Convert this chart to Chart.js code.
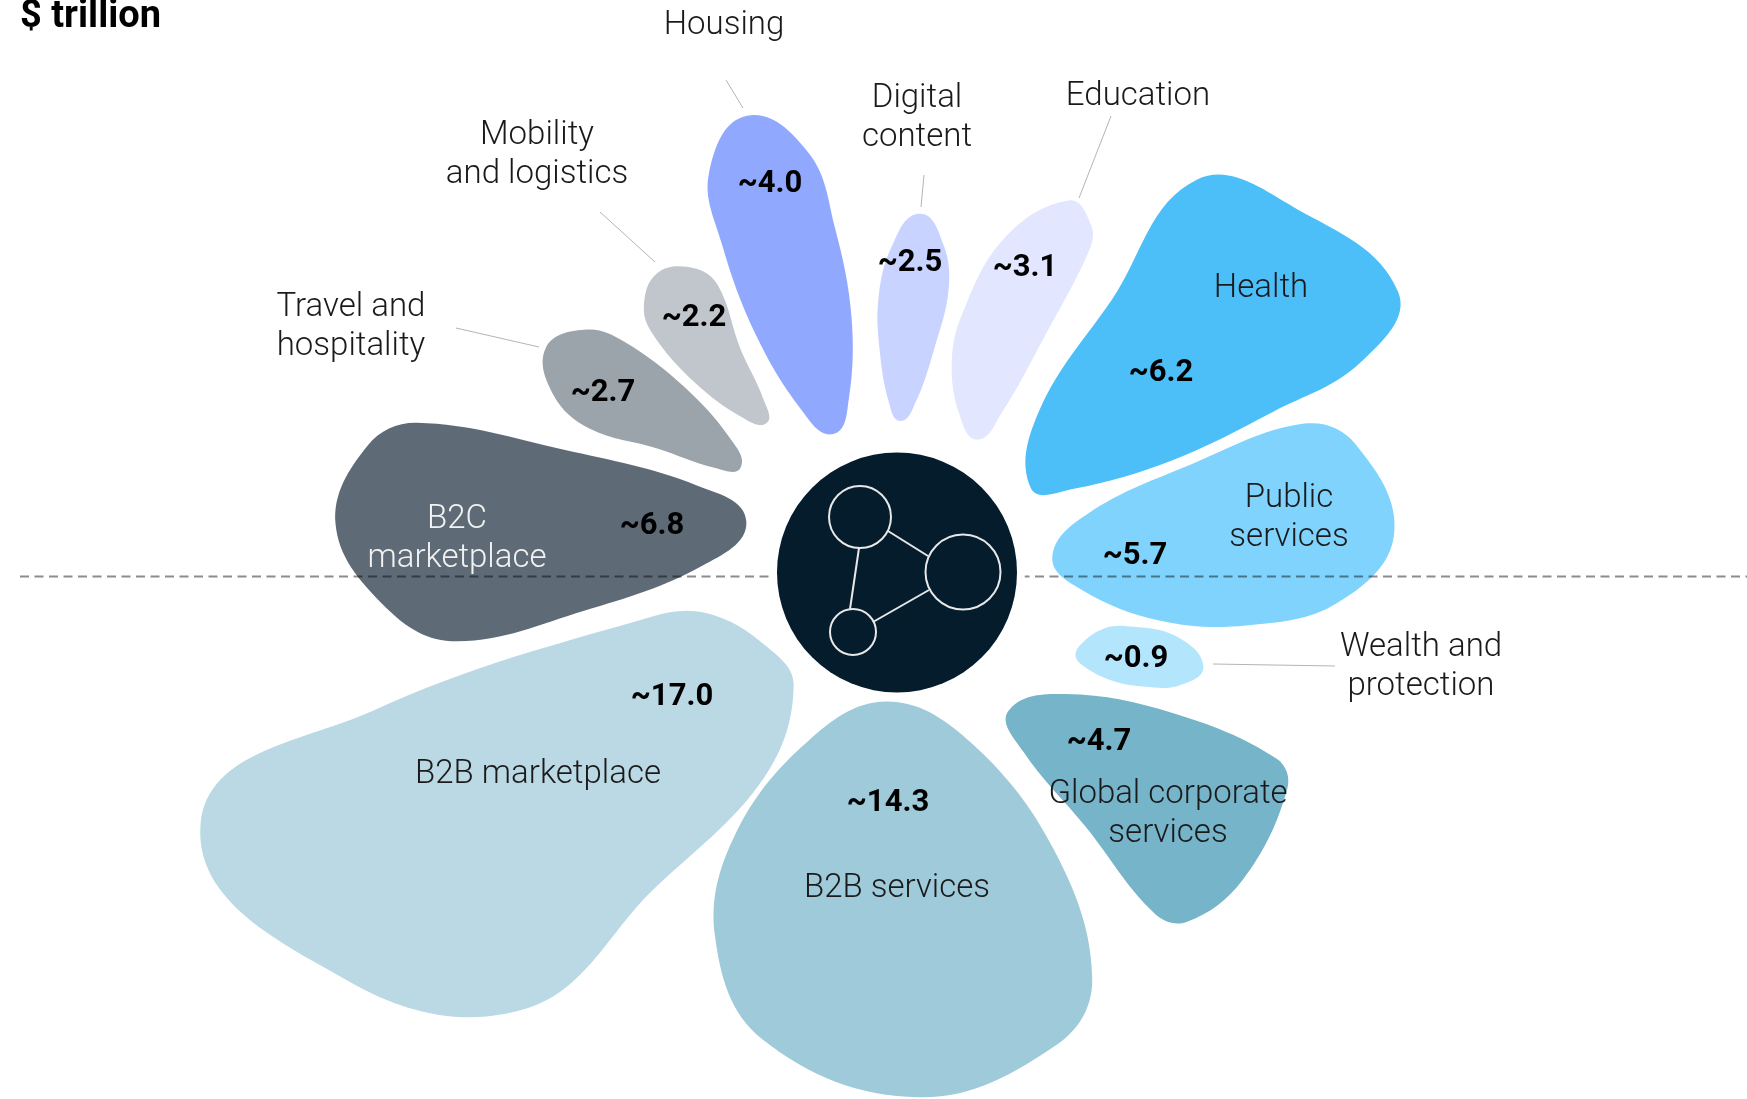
<!DOCTYPE html>
<html>
<head>
<meta charset="utf-8">
<title>$ trillion</title>
<script src="https://cdn.jsdelivr.net/npm/chart.js@4"></script>
<style>
  html, body { margin: 0; background: #fff; }
  canvas { display: block; }
</style>
</head>
<body>
<canvas id="petalChart" width="1747" height="1099"></canvas>
<script>
const categories = [
  ['Wealth and', 'protection'], ['Global corporate', 'services'], ['B2B services'], ['B2B marketplace'],
  ['B2C', 'marketplace'], ['Travel and', 'hospitality'], ['Mobility', 'and logistics'], ['Housing'],
  ['Digital', 'content'], ['Education'], ['Health'], ['Public', 'services']
];
const values = [0.9, 4.7, 14.3, 17.0, 6.8, 2.7, 2.2, 4.0, 2.5, 3.1, 6.2, 5.7];
const colors = ['#b3e5fd', '#76b4c9', '#9ecada', '#bbd9e4', '#5e6b76', '#9ba3ab',
  '#c0c6cb', '#91a8ff', '#c8d3ff', '#e2e7ff', '#4cbff9', '#7fd3fd'];

// petal look, not data: turn = direction of tip/base in degrees, gap = base distance,
// stretch on the scale radius, fat on the area rule, then belly + fullness for each side
const petalStyle = [
  { tip: 17.1, base: 25.0, gap: 197, stretch: 1.116, fat: 0.76, share: 0.43, cw: [0.55, 0.88, 0.85], ccw: [0.38, 0.88, 0.85] },
  { tip: 41.7, base: 51.2, gap: 178, stretch: 1.195, fat: 1.1, share: 0.4, cw: [0.82, 0.62, 0.85], ccw: [0.85, 0.8, 0.85] },
  { tip: 87.6, base: 94.9, gap: 130, stretch: 0.821, fat: 0.94, share: 0.51, cw: [0.55, 0.85, 0.8], ccw: [0.74, 0.85, 0.78] },
  { tip: 160.1, base: 132.5, gap: 153, stretch: 1.041, fat: 1.15, share: 0.28, cw: [0.2, 0.9, 0.72], ccw: [0.55, 0.66, 0.74] },
  { tip: 184.9, base: 198.6, gap: 159, stretch: 1.273, fat: 1.2, share: 0.46, cw: [0.8, 0.72, 0.78], ccw: [0.72, 0.75, 0.68] },
  { tip: 212.6, base: 213.7, gap: 188, stretch: 1.245, fat: 0.71, share: 0.5, cw: [0.72, 0.85, 0.8], ccw: [0.65, 0.6, 0.8] },
  { tip: 231.3, base: 228.8, gap: 198, stretch: 1.192, fat: 0.625, share: 0.51, cw: [0.75, 0.55, 0.8], ccw: [0.72, 0.85, 0.8] },
  { tip: 251.8, base: 245.2, gap: 152, stretch: 1.302, fat: 0.85, share: 0.49, cw: [0.6, 0.87, 0.9], ccw: [0.65, 0.85, 0.9] },
  { tip: 273.6, base: 271.3, gap: 151, stretch: 1.09, fat: 0.523, share: 0.52, cw: [0.65, 0.75, 0.75], ccw: [0.57, 0.8, 0.75] },
  { tip: 294.9, base: 301.3, gap: 155, stretch: 1.187, fat: 0.72, share: 0.38, cw: [0.85, 0.7, 0.8], ccw: [0.42, 0.85, 0.8] },
  { tip: 330.8, base: 327.8, gap: 158, stretch: 1.345, fat: 1.47, share: 0.195, cw: [0.6, 0.9, 0.95], ccw: [0.7, 0.66, 0.62] },
  { tip: 355.7, base: 354.5, gap: 156, stretch: 1.205, fat: 1.08, share: 0.41, cw: [0.55, 0.87, 0.8], ccw: [0.76, 0.71, 0.8] }
];
const areaPerValue = 11000;

// text spots as offsets from the chart centre
const labelSpots = [[524, 76], [271, 223], [0, 317], [-359, 203], [-440, -52], [-546, -264], [-360, -436], [-173, -546], [20, -473], [241, -475], [364, -283], [392, -73]];
const valueSpots = [[239, 87], [202, 170], [-9, 231], [-225, 125], [-245, -46], [-294, -179], [-203, -254], [-127, -388], [13, -309], [128, -304], [264, -199], [238, -16]];
const labelInk = ['#1a1a1a', '#1a1a1a', '#1a1a1a', '#1a1a1a', '#f2f2f2', '#1a1a1a', '#1a1a1a', '#1a1a1a', '#1a1a1a', '#1a1a1a', '#1a1a1a', '#1a1a1a'];
const leaders = [
  [[316, 92], [438, 94]], null, null, null, null,
  [[-441, -244], [-358, -225]], [[-297, -360], [-242, -310]], [[-171, -492], [-154, -464]],
  [[27, -397], [24, -365]], [[214, -456], [182, -374]], null, null
];

function rad(deg) { return deg * Math.PI / 180; }

function petalPoints(arc, i) {
  const s = petalStyle[i];
  const bx = arc.x + s.gap * Math.cos(rad(s.base));
  const by = arc.y + s.gap * Math.sin(rad(s.base));
  const reach = arc.outerRadius * s.stretch;
  const tx = arc.x + reach * Math.cos(rad(s.tip));
  const ty = arc.y + reach * Math.sin(rad(s.tip));
  const len = Math.hypot(tx - bx, ty - by);
  const ux = (tx - bx) / len, uy = (ty - by) / len;
  const wide = s.fat * areaPerValue * values[i] / len;

  function side(form, half) {
    const b = form[0];
    return [
      [0.15 * b, form[1] * 0.5 * half],
      [0.55 * b, form[1] * half],
      [b, half],
      [b + 0.6 * (1 - b), form[2] * half]
    ];
  }
  const local = [[0, 0]]
    .concat(side(s.cw, wide * s.share))
    .concat([[1, 0]])
    .concat(side(s.ccw, -wide * (1 - s.share)).reverse());
  return local.map(p => [bx + ux * p[0] * len - uy * p[1], by + uy * p[0] * len + ux * p[1]]);
}

// handles follow the neighbours' direction, sized by the segment, so uneven points stay smooth
function tangent(pts, k) {
  const n = pts.length;
  const a = pts[(k - 1 + n) % n], b = pts[(k + 1) % n];
  const d = Math.hypot(b[0] - a[0], b[1] - a[1]);
  return [(b[0] - a[0]) / d, (b[1] - a[1]) / d];
}

function drawBlob(ctx, pts) {
  const n = pts.length;
  ctx.beginPath();
  ctx.moveTo(pts[0][0], pts[0][1]);
  for (let k = 0; k < n; k++) {
    const p1 = pts[k], p2 = pts[(k + 1) % n];
    const t1 = tangent(pts, k), t2 = tangent(pts, (k + 1) % n);
    const h = Math.hypot(p2[0] - p1[0], p2[1] - p1[1]) * 0.36;
    ctx.bezierCurveTo(p1[0] + t1[0] * h, p1[1] + t1[1] * h, p2[0] - t2[0] * h, p2[1] - t2[1] * h, p2[0], p2[1]);
  }
  ctx.closePath();
  ctx.fill();
}

const petalPlugin = {
  id: 'petals',
  beforeDatasetDraw(chart, args) {
    const ctx = chart.ctx;
    ctx.save();
    args.meta.data.forEach((arc, i) => {
      ctx.fillStyle = arc.options.backgroundColor;
      drawBlob(ctx, petalPoints(arc, i));
    });
    ctx.restore();
    return false;
  },
  afterDatasetsDraw(chart) {
    const ctx = chart.ctx;
    const cx = chart.scales.r.xCenter, cy = chart.scales.r.yCenter;
    ctx.save();

    // dashed divider sits over the petals, under the hub
    ctx.globalCompositeOperation = 'multiply';
    ctx.strokeStyle = '#8c8c8c';
    ctx.lineWidth = 2;
    ctx.setLineDash([9, 5.5]);
    ctx.beginPath();
    ctx.moveTo(20, cy + 4.5);
    ctx.lineTo(chart.width, cy + 4.5);
    ctx.stroke();
    ctx.globalCompositeOperation = 'source-over';
    ctx.setLineDash([]);

    ctx.fillStyle = '#fff';
    ctx.beginPath();
    ctx.arc(cx, cy + 0.5, 128, 0, Math.PI * 2);
    ctx.fill();
    ctx.fillStyle = '#051c2c';
    ctx.beginPath();
    ctx.arc(cx, cy + 0.5, 120, 0, Math.PI * 2);
    ctx.fill();

    // network icon in the hub
    ctx.strokeStyle = '#e8e8e8';
    ctx.lineWidth = 2;
    [[-37, -55, 31], [66, 0, 37.5], [-44, 60, 23]].forEach(c => {
      ctx.beginPath();
      ctx.arc(cx + c[0], cy + c[1], c[2], 0, Math.PI * 2);
      ctx.stroke();
    });
    [[[-9, -41], [31, -16]], [[-38, -24], [-47, 37]], [[-24, 50], [32, 18]]].forEach(l => {
      ctx.beginPath();
      ctx.moveTo(cx + l[0][0], cy + l[0][1]);
      ctx.lineTo(cx + l[1][0], cy + l[1][1]);
      ctx.stroke();
    });

    // leader lines
    ctx.strokeStyle = '#b4b4b4';
    ctx.lineWidth = 1;
    leaders.forEach(l => {
      if (!l) return;
      ctx.beginPath();
      ctx.moveTo(cx + l[0][0], cy + l[0][1]);
      ctx.lineTo(cx + l[1][0], cy + l[1][1]);
      ctx.stroke();
    });

    ctx.textAlign = 'center';
    ctx.textBaseline = 'middle';
    categories.forEach((lines, i) => {
      ctx.font = '300 33px Roboto';
      ctx.fillStyle = labelInk[i];
      lines.forEach((line, j) => {
        ctx.fillText(line, cx + labelSpots[i][0], cy + labelSpots[i][1] + j * 38.5);
      });
      ctx.font = '700 31px Roboto';
      ctx.fillStyle = '#000';
      ctx.fillText('~' + values[i].toFixed(1), cx + valueSpots[i][0], cy + valueSpots[i][1]);
    });

    ctx.textAlign = 'left';
    ctx.font = '700 38px Roboto';
    ctx.fillText('$ trillion', 20, 17);
    ctx.restore();
  }
};

new Chart(document.getElementById('petalChart'), {
  type: 'polarArea',
  data: {
    labels: categories.map(c => c.join(' ')),
    datasets: [{ data: values, backgroundColor: colors, borderWidth: 0, clip: false }]
  },
  options: {
    responsive: false,
    animation: false,
    layout: { padding: { left: 47, top: 45 } },
    plugins: { legend: { display: false }, tooltip: { enabled: false } },
    scales: {
      r: {
        min: -10,
        max: 10,
        beginAtZero: false,
        startAngle: 90,
        ticks: { display: false },
        grid: { display: false },
        angleLines: { display: false },
        pointLabels: { display: false }
      }
    }
  },
  plugins: [petalPlugin]
});
</script>
</body>
</html>
